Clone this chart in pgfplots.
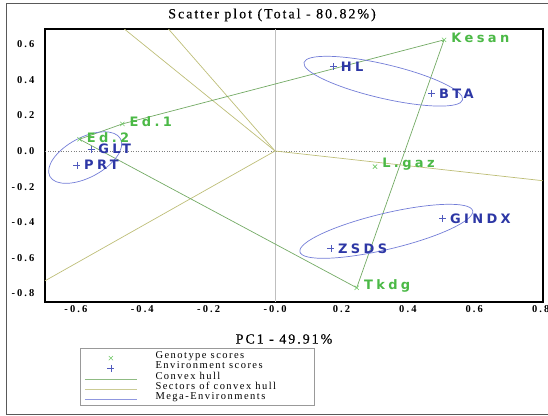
\documentclass[border=0pt]{standalone}
\usepackage{fontspec}
\setmainfont{Liberation Serif}
\newfontfamily\serifsp[LetterSpace=14, FakeBold=0.3]{Liberation Serif}
\newfontfamily\ticksp[LetterSpace=20]{Liberation Serif}
\newfontfamily\legsp[LetterSpace=14]{Liberation Serif}
\newfontfamily\lblsp[LetterSpace=26]{DejaVu Sans}
\usepackage{pgfplots}
\usepackage{pgfplotstable}
\pgfplotsset{compat=1.18}

\definecolor{gtxt}{RGB}{75,185,70}
\definecolor{gmark}{RGB}{110,200,100}
\definecolor{btxt}{RGB}{45,55,165}
\definecolor{bmark}{RGB}{80,90,190}
\definecolor{hull}{RGB}{115,170,100}
\definecolor{sect}{RGB}{190,190,120}
\definecolor{ell}{RGB}{115,125,215}

\pgfplotstableread{
x y name
0.509 0.624 Kesan
-0.460 0.152 Ed.1
-0.589 0.066 Ed.2
0.301 -0.088 L.gaz
0.246 -0.768 Tkdg
}\gen

\pgfplotstableread{
x y name
0.176 0.474 HL
0.472 0.324 BTA
-0.554 0.010 GLT
-0.597 -0.079 PRT
0.505 -0.378 GINDX
0.168 -0.547 ZSDS
}\env

\begin{document}
\begin{tikzpicture}
\path[use as bounding box] (0,0) rectangle (548bp,416bp);
\begin{axis}[
  at={(45bp,114bp)}, anchor=south west,
  scale only axis, width=498bp, height=273bp,
  xmin=-0.693, xmax=0.807, ymin=-0.848, ymax=0.685,
  axis line style={line width=1.3bp, black},
  xtick={-0.6,-0.4,-0.2,0,0.2,0.4,0.6,0.8},
  xticklabels={-0.6,-0.4,-0.2,-0.0,0.2,0.4,0.6,0.8},
  ytick={-0.8,-0.6,-0.4,-0.2,0,0.2,0.4,0.6},
  yticklabels={-0.8,-0.6,-0.4,-0.2,0.0,0.2,0.4,0.6},
  major tick length=0pt,
  tick label style={font=\ticksp\bfseries\fontsize{10.5bp}{11bp}\selectfont},
  yticklabel style={xshift=-7bp},
  legend style={at={(axis description cs:0.0703,-0.1685)}, anchor=north west,
    draw=gray!80, fill=white, inner xsep=4bp, inner ysep=3bp, row sep=1bp,
    nodes={inner sep=0pt, text height=7bp, text depth=2bp, anchor=base west},
    font=\legsp\fontsize{10.5bp}{10bp}\selectfont,
    /tikz/every odd column/.append style={column sep=18bp}},
  legend cell align=left,
  legend image code/.code={\draw[mark repeat=2,mark phase=2,#1] plot coordinates {(0bp,0bp)(26bp,0bp)(52bp,0bp)};},
]
% reference lines
\addplot[forget plot, black!25, line width=0.8bp] coordinates {(0,-0.848) (0,0.685)};
\addplot[forget plot, gray, dotted, line width=0.6bp] coordinates {(-0.693,0) (0.807,0)};
% sectors
\addplot[forget plot, sect, line width=0.7bp] coordinates {(0,0) (0.807,-0.167)};
\addplot[forget plot, sect, line width=0.7bp] coordinates {(0,0) (-0.693,-0.729)};
\addplot[forget plot, sect, line width=0.7bp] coordinates {(0,0) (-0.454,0.685)};
\addplot[forget plot, sect, line width=0.7bp] coordinates {(0,0) (-0.321,0.685)};
% convex hull
\addplot[forget plot, hull, line width=0.7bp] coordinates {(0.509,0.624) (0.246,-0.768) (-0.589,0.066) (-0.460,0.152) (0.509,0.624)};
% mega-environments
\draw[ell, line width=0.7bp, rotate around={-13.2:(axis cs:0.326,0.392)}] (axis cs:0.326,0.392) ellipse [x radius=81.5bp, y radius=17bp];
\draw[ell, line width=0.7bp, rotate around={13.4:(axis cs:0.335,-0.451)}] (axis cs:0.335,-0.451) ellipse [x radius=88.8bp, y radius=18bp];
\draw[ell, line width=0.7bp, rotate around={28:(axis cs:-0.572,-0.037)}] (axis cs:-0.572,-0.037) ellipse [x radius=40bp, y radius=20bp];
% genotype scores
\addplot[forget plot, only marks, mark=x, mark size=3bp, gmark, line width=0.6bp,
  nodes near coords, point meta=explicit symbolic,
  every node near coord/.append style={anchor=west, inner sep=0pt, xshift=7bp, yshift=2bp,
    font=\lblsp\bfseries\fontsize{13bp}{15bp}\selectfont, text=gtxt}]
  table[x=x, y=y, meta=name] {\gen};
% environment scores
\addplot[forget plot, only marks, mark=+, mark size=3.5bp, bmark, line width=0.6bp,
  nodes near coords, point meta=explicit symbolic,
  every node near coord/.append style={anchor=west, inner sep=0pt, xshift=7bp, yshift=0bp,
    font=\lblsp\bfseries\fontsize{13bp}{15bp}\selectfont, text=btxt}]
  table[x=x, y=y, meta=name] {\env};
% legend
\addlegendimage{only marks, mark=x, mark size=3bp, gmark, line width=0.5bp}
\addlegendentry{\makebox[155bp][l]{Genotype scores}}
\addlegendimage{only marks, mark=+, mark size=3.5bp, bmark, line width=0.5bp}
\addlegendentry{\makebox[155bp][l]{Environment scores}}
\addlegendimage{hull!80, line width=1.3bp}
\addlegendentry{\makebox[155bp][l]{Convex hull}}
\addlegendimage{sect!80, line width=1.3bp}
\addlegendentry{\makebox[155bp][l]{Sectors of convex hull}}
\addlegendimage{ell!80, line width=1.3bp}
\addlegendentry{\makebox[155bp][l]{Mega-Environments}}
\end{axis}
\draw[black!65, line width=0.8bp] (6bp,2bp) rectangle (552bp,413bp);
\node[font=\serifsp\fontsize{14bp}{16bp}\selectfont] at (272bp,401bp) {Scatter plot (Total - 80.82\%)};
\node[font=\serifsp\fontsize{14bp}{16bp}\selectfont] at (284bp,77bp) {PC1 - 49.91\%};
\end{tikzpicture}
\end{document}
